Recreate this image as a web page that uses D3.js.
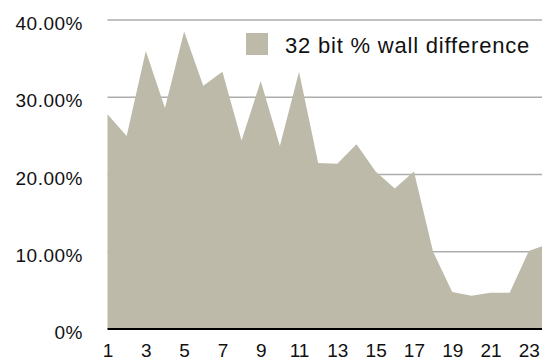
<!DOCTYPE html>
<html>
<head>
<meta charset="utf-8">
<script src="https://cdn.jsdelivr.net/npm/d3@7"></script>
<style>
  html, body { margin: 0; padding: 0; background: #fff; }
  svg { display: block; }
  text { font-family: "Liberation Sans", Arial, Helvetica, sans-serif; fill: #111; }
</style>
</head>
<body>
<svg id="chart" width="542" height="360"></svg>
<script>
// Run index 1..24 and the percentage difference in wall time for 32 bit
const runs = d3.range(1, 25);
const wallDiff = [
  0.278, 0.250, 0.360, 0.286, 0.385, 0.315, 0.333, 0.244,
  0.321, 0.237, 0.333, 0.215, 0.214, 0.239, 0.204, 0.182,
  0.204, 0.100, 0.048, 0.043, 0.047, 0.047, 0.101, 0.110
];
const yTicks = [0, 0.1, 0.2, 0.3, 0.4];
const xTicks = [1, 3, 5, 7, 9, 11, 13, 15, 17, 19, 21, 23];
const seriesName = "32 bit % wall difference";

const W = 542, H = 360;
const plot = { left: 107.5, right: 548, top: 20, bottom: 329 };
const fillColor = "#bdbaa9";

const svg = d3.select("#chart");

const x = d3.scaleLinear().domain([1, 24]).range([plot.left, plot.right]);
const y = d3.scaleLinear().domain([0, 0.4]).range([plot.bottom, plot.top]);

const pct = v => v === 0 ? "0%" : d3.format(".2%")(v);

// horizontal grid lines
svg.append("g")
  .selectAll("line")
  .data(yTicks.filter(v => v > 0))
  .join("line")
  .attr("x1", plot.left).attr("x2", W)
  .attr("y1", d => y(d)).attr("y2", d => y(d))
  .attr("stroke", "#adadad")
  .attr("stroke-width", 1.5);

// filled area
const area = d3.area()
  .x((d, i) => x(runs[i]))
  .y0(y(0))
  .y1(d => y(d));

svg.append("path")
  .datum(wallDiff)
  .attr("d", area)
  .attr("fill", fillColor);

// baseline
svg.append("line")
  .attr("x1", plot.left).attr("x2", W)
  .attr("y1", y(0)).attr("y2", y(0))
  .attr("stroke", "#000")
  .attr("stroke-width", 2);

// y-axis labels
const yAxis = d3.axisLeft(y).tickValues(yTicks).tickFormat(pct).tickSize(0).tickPadding(0);
const gy = svg.append("g").attr("transform", `translate(83,0)`).call(yAxis);
gy.select(".domain").remove();
gy.selectAll("text")
  .attr("font-size", 19)
  .attr("font-family", "Liberation Sans, Arial, sans-serif")
  .attr("fill", "#111")
  .attr("dy", "0.5em")
  .attr("letter-spacing", 0.5);

// x-axis labels
const xAxis = d3.axisBottom(x).tickValues(xTicks).tickFormat(d3.format("d")).tickSize(0).tickPadding(0);
const gx = svg.append("g").attr("transform", `translate(0,${y(0) + 14})`).call(xAxis);
gx.select(".domain").remove();
gx.selectAll("text")
  .attr("font-size", 19)
  .attr("font-family", "Liberation Sans, Arial, sans-serif")
  .attr("fill", "#111")
  .attr("dy", "0.71em");

// legend
const legend = svg.append("g").attr("transform", "translate(246,33)");
legend.append("rect")
  .attr("width", 22).attr("height", 22)
  .attr("fill", fillColor);
legend.append("text")
  .attr("x", 39).attr("y", 20)
  .attr("font-size", 22)
  .attr("letter-spacing", 0.8)
  .text(seriesName);
</script>
</body>
</html>
